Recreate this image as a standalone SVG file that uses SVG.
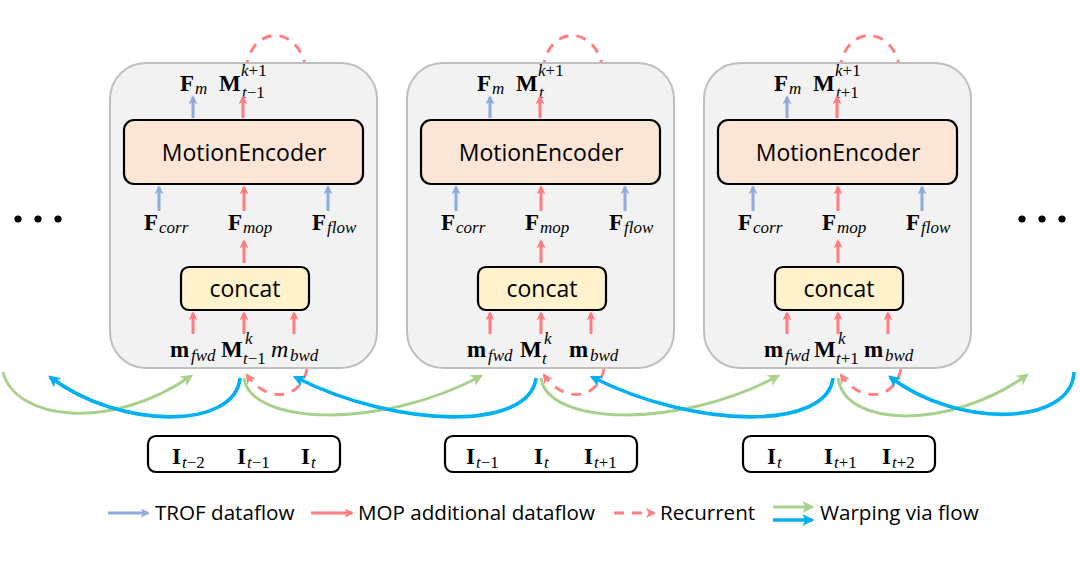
<svg xmlns="http://www.w3.org/2000/svg" width="1080" height="562" viewBox="0 0 1080 562">
<style>
.panel{fill:#f2f2f2;stroke:#bfbfbf;stroke-width:2}
.me{fill:#fbe5d6;stroke:#000;stroke-width:2.2}
.cc{fill:#fff2cc;stroke:#000;stroke-width:2.2}
.inp{fill:#fff;stroke:#000;stroke-width:2.2}
.box-t{font-family:"Open Sans","Liberation Sans",sans-serif;font-size:23px;fill:#000;text-anchor:middle}
.leg{font-family:"Open Sans","Liberation Sans",sans-serif;font-size:20.6px;fill:#000}
.b{font-family:"Liberation Serif","DejaVu Serif",serif;font-weight:bold;font-size:23px;fill:#000}
.bi{font-family:"Liberation Serif","DejaVu Serif",serif;font-style:italic;font-size:24px;fill:#000}
.s{font-family:"Liberation Serif","DejaVu Serif",serif;font-style:italic;font-size:17px;fill:#000}
.u{font-style:normal}
.tb{stroke:#8faadc;stroke-width:3;fill:none;marker-end:url(#hb)}
.tr{stroke:#ff7c80;stroke-width:3;fill:none;marker-end:url(#hr)}
.dr{stroke:#ff8080;stroke-width:3;fill:none;stroke-dasharray:10 8}
.dra{stroke:#ff8080;stroke-width:3;fill:none;stroke-dasharray:10 8;marker-end:url(#hd)}
.wg{stroke:#a9d18e;stroke-width:3;fill:none;marker-end:url(#hg)}
.wb{stroke:#00b0f0;stroke-width:3.6;fill:none;marker-end:url(#hc)}
</style>
<defs>
<marker id="hb" viewBox="0 0 10 10" refX="8" refY="5" markerUnits="userSpaceOnUse" markerWidth="9" markerHeight="9" orient="auto"><path d="M0,0 L10,5 L0,10 L2.5,5 z" fill="#8faadc"/></marker>
<marker id="hr" viewBox="0 0 10 10" refX="8" refY="5" markerUnits="userSpaceOnUse" markerWidth="9" markerHeight="9" orient="auto"><path d="M0,0 L10,5 L0,10 L2.5,5 z" fill="#ff7c80"/></marker>
<marker id="hd" viewBox="0 0 10 10" refX="8" refY="5" markerUnits="userSpaceOnUse" markerWidth="10" markerHeight="10" orient="auto"><path d="M0,0 L10,5 L0,10 L2.5,5 z" fill="#ff8080"/></marker>
<marker id="hg" viewBox="0 0 10 10" refX="8" refY="5" markerUnits="userSpaceOnUse" markerWidth="12" markerHeight="12" orient="auto"><path d="M0,0 L10,5 L0,10 L2.5,5 z" fill="#a9d18e"/></marker>
<marker id="hc" viewBox="0 0 10 10" refX="8" refY="5" markerUnits="userSpaceOnUse" markerWidth="12" markerHeight="12" orient="auto"><path d="M0,0 L10,5 L0,10 L2.5,5 z" fill="#00b0f0"/></marker>
</defs>
<rect width="1080" height="562" fill="#fff"/>

<g id="recurrent-top">
<path class="dr" d="M246,70 C250,24 300,24 306,70"/>
<path class="dr" d="M543,70 C547,24 597,24 603,70"/>
<path class="dr" d="M840,70 C844,24 894,24 900,70"/>
</g>

<g id="ellipsis-left" fill="#000">
<circle cx="18" cy="219" r="3.6"/><circle cx="38" cy="219" r="3.6"/><circle cx="58" cy="219" r="3.6"/>
</g>
<g id="ellipsis-right" fill="#000">
<circle cx="1022" cy="219" r="3.6"/><circle cx="1042" cy="219" r="3.6"/><circle cx="1062" cy="219" r="3.6"/>
</g>

<g id="panel-1">
<rect class="panel" x="110" y="63" width="267" height="305" rx="36"/>
<g id="me-1"><rect class="me" x="124" y="120" width="239" height="64" rx="10"/><text class="box-t" x="244" y="161">MotionEncoder</text></g>
<g id="concat-1"><rect class="cc" x="181" y="267" width="128" height="43" rx="8"/><text class="box-t" x="245" y="297">concat</text></g>
<text class="b" x="180" y="91">F</text><text class="s" x="195" y="94">m</text>
<text class="b" x="219" y="91">M</text><text class="s" x="241" y="76">k<tspan class="u">+1</tspan></text><text class="s" x="242" y="98">t<tspan class="u">−1</tspan></text>
<text class="b" x="144" y="230">F</text><text class="s" x="159" y="233">corr</text>
<text class="b" x="228" y="230">F</text><text class="s" x="243" y="233">mop</text>
<text class="b" x="312" y="230">F</text><text class="s" x="327" y="233">flow</text>
<text class="b" x="170" y="357">m</text><text class="s" x="191" y="361">fwd</text>
<text class="b" x="221" y="357">M</text><text class="s" x="245" y="344">k</text><text class="s" x="243" y="364">t<tspan class="u">−1</tspan></text>
<text class="bi" x="271" y="357">m</text><text class="s" x="290" y="361">bwd</text>
</g>

<g id="panel-2">
<rect class="panel" x="407" y="63" width="267" height="305" rx="36"/>
<g id="me-2"><rect class="me" x="421" y="120" width="239" height="64" rx="10"/><text class="box-t" x="541" y="161">MotionEncoder</text></g>
<g id="concat-2"><rect class="cc" x="478" y="267" width="128" height="43" rx="8"/><text class="box-t" x="542" y="297">concat</text></g>
<text class="b" x="477" y="91">F</text><text class="s" x="492" y="94">m</text>
<text class="b" x="516" y="91">M</text><text class="s" x="538" y="76">k<tspan class="u">+1</tspan></text><text class="s" x="539" y="98">t</text>
<text class="b" x="441" y="230">F</text><text class="s" x="456" y="233">corr</text>
<text class="b" x="525" y="230">F</text><text class="s" x="540" y="233">mop</text>
<text class="b" x="609" y="230">F</text><text class="s" x="624" y="233">flow</text>
<text class="b" x="467" y="357">m</text><text class="s" x="488" y="361">fwd</text>
<text class="b" x="520" y="357">M</text><text class="s" x="544" y="344">k</text><text class="s" x="542" y="364">t</text>
<text class="b" x="569" y="357">m</text><text class="s" x="590" y="361">bwd</text>
</g>

<g id="panel-3">
<rect class="panel" x="704" y="63" width="267" height="305" rx="36"/>
<g id="me-3"><rect class="me" x="718" y="120" width="239" height="64" rx="10"/><text class="box-t" x="838" y="161">MotionEncoder</text></g>
<g id="concat-3"><rect class="cc" x="775" y="267" width="128" height="43" rx="8"/><text class="box-t" x="839" y="297">concat</text></g>
<text class="b" x="774" y="91">F</text><text class="s" x="789" y="94">m</text>
<text class="b" x="813" y="91">M</text><text class="s" x="835" y="76">k<tspan class="u">+1</tspan></text><text class="s" x="836" y="98">t<tspan class="u">+1</tspan></text>
<text class="b" x="738" y="230">F</text><text class="s" x="753" y="233">corr</text>
<text class="b" x="822" y="230">F</text><text class="s" x="837" y="233">mop</text>
<text class="b" x="906" y="230">F</text><text class="s" x="921" y="233">flow</text>
<text class="b" x="764" y="357">m</text><text class="s" x="785" y="361">fwd</text>
<text class="b" x="814" y="357">M</text><text class="s" x="838" y="344">k</text><text class="s" x="836" y="364">t<tspan class="u">+1</tspan></text>
<text class="b" x="864" y="357">m</text><text class="s" x="885" y="361">bwd</text>
</g>

<g id="input-1">
<rect class="inp" x="148" y="436" width="192" height="36" rx="8"/>
<text class="b" x="172" y="464">I</text><text class="s" x="182" y="468">t<tspan class="u">−2</tspan></text>
<text class="b" x="237" y="464">I</text><text class="s" x="247" y="468">t<tspan class="u">−1</tspan></text>
<text class="b" x="301" y="464">I</text><text class="s" x="311" y="468">t</text>
</g>
<g id="input-2">
<rect class="inp" x="445" y="436" width="192" height="36" rx="8"/>
<text class="b" x="466" y="464">I</text><text class="s" x="476" y="468">t<tspan class="u">−1</tspan></text>
<text class="b" x="534" y="464">I</text><text class="s" x="544" y="468">t</text>
<text class="b" x="584" y="464">I</text><text class="s" x="594" y="468">t<tspan class="u">+1</tspan></text>
</g>
<g id="input-3">
<rect class="inp" x="743" y="436" width="192" height="36" rx="8"/>
<text class="b" x="767" y="464">I</text><text class="s" x="777" y="468">t</text>
<text class="b" x="824" y="464">I</text><text class="s" x="834" y="468">t<tspan class="u">+1</tspan></text>
<text class="b" x="882" y="464">I</text><text class="s" x="892" y="468">t<tspan class="u">+2</tspan></text>
</g>

<g id="connectors">
<path class="tb" d="M193,118 V97"/><path class="tr" d="M243,118 V97"/>
<path class="tb" d="M159,211 V187"/><path class="tr" d="M244,211 V187"/><path class="tb" d="M328,211 V187"/>
<path class="tr" d="M244,263 V241"/>
<path class="tr" d="M193,334 V313"/><path class="tr" d="M244,334 V313"/><path class="tr" d="M294,334 V313"/>
<path class="tb" d="M490,118 V97"/><path class="tr" d="M540,118 V97"/>
<path class="tb" d="M456,211 V187"/><path class="tr" d="M541,211 V187"/><path class="tb" d="M625,211 V187"/>
<path class="tr" d="M541,263 V241"/>
<path class="tr" d="M490,334 V313"/><path class="tr" d="M541,334 V313"/><path class="tr" d="M591,334 V313"/>
<path class="tb" d="M787,118 V97"/><path class="tr" d="M837,118 V97"/>
<path class="tb" d="M753,211 V187"/><path class="tr" d="M838,211 V187"/><path class="tb" d="M922,211 V187"/>
<path class="tr" d="M838,263 V241"/>
<path class="tr" d="M787,334 V313"/><path class="tr" d="M838,334 V313"/><path class="tr" d="M888,334 V313"/>
<path class="dra" d="M307,369 C300,402 265,402 247,375"/>
<path class="dra" d="M604,369 C597,402 562,402 544,375"/>
<path class="dra" d="M901,369 C894,402 859,402 841,375"/>
<path class="wg" d="M3,372 C15,420 110,432 191,376"/>
<path class="wg" d="M244,378 C250,425 380,430 481,376"/>
<path class="wg" d="M541,378 C547,425 677,430 778,376"/>
<path class="wg" d="M838,378 C845,428 950,430 1027,375"/>
<path class="wb" d="M240,378 C235,430 120,430 50,377"/>
<path class="wb" d="M536,378 C530,430 400,430 295,377"/>
<path class="wb" d="M833,378 C827,430 697,430 592,377"/>
<path class="wb" d="M1074,372 C1072,425 960,430 890,377"/>
</g>

<g id="legend">
<path class="tb" d="M108,513 H148"/><text class="leg" x="155" y="520">TROF dataflow</text>
<path class="tr" d="M311,513 H352"/><text class="leg" x="358" y="520">MOP additional dataflow</text>
<path class="dra" d="M614,513 H654" stroke-dasharray="14 8"/><text class="leg" x="660" y="520">Recurrent</text>
<path class="wg" d="M773,507 H812"/><path class="wb" d="M773,520 H812"/><text class="leg" x="820" y="520">Warping via flow</text>
</g>
</svg>
